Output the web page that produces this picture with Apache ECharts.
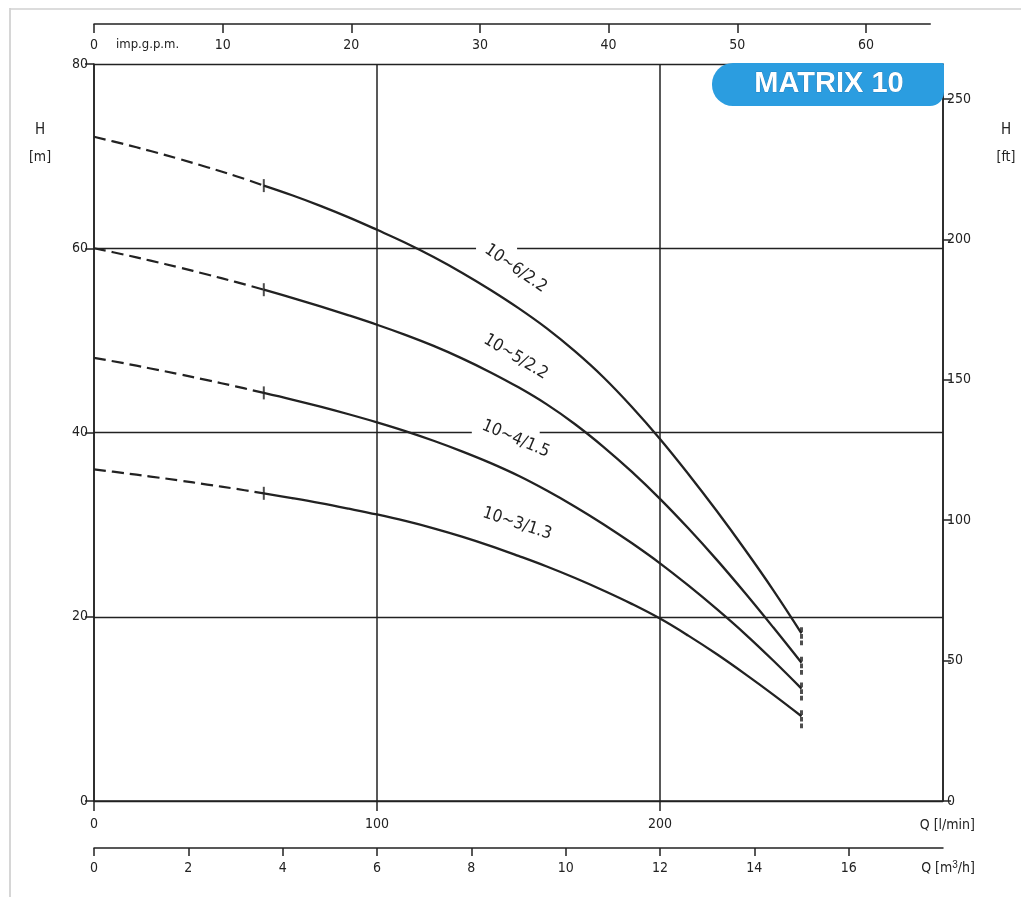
<!DOCTYPE html>
<html>
<head>
<meta charset="utf-8">
<script src="https://cdn.jsdelivr.net/npm/echarts@6/dist/echarts.min.js"></script>
<style>
  html, body { margin: 0; padding: 0; background: #fff; }
  #chart { width: 1021px; height: 897px; }
</style>
</head>
<body>
<div id="chart"></div>
<script>
// Pump curves, flow Q in l/min, head H in metres
const flowLpm   = [0, 10, 20, 30, 40, 50, 60, 70, 80, 90, 100, 110, 120, 130, 140, 150, 160, 170, 180, 190, 200, 210, 220, 230, 240, 250];
const head_10_6 = [72.1, 71.35, 70.55, 69.7, 68.8, 67.85, 66.8, 65.75, 64.6, 63.35, 62.0, 60.6, 59.05, 57.35, 55.5, 53.5, 51.3, 48.8, 46.0, 42.8, 39.3, 35.5, 31.5, 27.3, 22.9, 18.2];
const head_10_5 = [60.0, 59.35, 58.65, 57.92, 57.15, 56.35, 55.5, 54.62, 53.69, 52.72, 51.7, 50.6, 49.4, 48.05, 46.55, 44.9, 43.05, 40.9, 38.45, 35.75, 32.8, 29.6, 26.2, 22.6, 18.85, 15.0];
const head_10_4 = [48.1, 47.55, 46.95, 46.33, 45.68, 45.01, 44.3, 43.58, 42.81, 41.98, 41.1, 40.15, 39.1, 37.95, 36.7, 35.3, 33.7, 31.95, 30.05, 28.0, 25.8, 23.4, 20.85, 18.15, 15.25, 12.2];
const head_10_3 = [36.0, 35.62, 35.22, 34.8, 34.35, 33.89, 33.4, 32.88, 32.33, 31.73, 31.1, 30.4, 29.6, 28.7, 27.7, 26.6, 25.45, 24.2, 22.85, 21.4, 19.8, 17.95, 15.95, 13.8, 11.55, 9.2];
const pumpNames = ['10~6/2.2', '10~5/2.2', '10~4/1.5', '10~3/1.3'];
const pumpHeads = [head_10_6, head_10_5, head_10_4, head_10_3];
const dashedUntilQ = 60;           // curves are dashed below this flow
const title = 'MATRIX 10';

// axis ranges / unit conversions
const qMaxLpm = 300, hMaxM = 80;
const LPM_PER_IMP_GPM = 4.54609, LPM_PER_M3H = 1000 / 60, M_PER_FT = 0.3048;
const gpmMax = 65;

const FONT = "'DejaVu Sans Condensed', 'Liberation Sans Narrow', 'DejaVu Sans', sans-serif";
const INK = '#222';

const gridL = 94, gridR = 78, gridT = 64, gridB = 96;
const plotW = 1021 - gridL - gridR;
const gpmGridW = plotW * (gpmMax * LPM_PER_IMP_GPM) / qMaxLpm;

function pts(heads, from, to) {
  const out = [];
  flowLpm.forEach((q, i) => { if (q >= from && q <= to) out.push([q, heads[i]]); });
  return out;
}

const series = [];
pumpHeads.forEach((h, k) => {
  series.push({
    type: 'line', name: pumpNames[k] + ' dashed', xAxisIndex: 0, yAxisIndex: 0,
    data: pts(h, 0, dashedUntilQ), smooth: 0.4, symbol: 'none',
    lineStyle: { color: INK, width: 2.2, type: [12, 6] }, z: 3, silent: true
  });
  series.push({
    type: 'line', name: pumpNames[k], xAxisIndex: 0, yAxisIndex: 0,
    data: pts(h, dashedUntilQ, qMaxLpm), smooth: 0.4, symbol: 'none',
    lineStyle: { color: INK, width: 2.3 }, z: 3, silent: true
  });
});
// small cross ticks where each curve turns solid
series.push({
  type: 'scatter', xAxisIndex: 0, yAxisIndex: 0, silent: true, z: 4,
  data: pumpHeads.map(h => [dashedUntilQ, h[flowLpm.indexOf(dashedUntilQ)]]),
  symbol: 'rect', symbolSize: [2, 13], itemStyle: { color: INK }
});
// dashed end markers at the last point of each curve
series.push({
  type: 'scatter', xAxisIndex: 0, yAxisIndex: 0, silent: true, z: 4,
  data: pumpHeads.map(h => [flowLpm[flowLpm.length - 1], h[h.length - 1]]),
  symbol: 'path://M0,0H2V5H0Z M0,7H2V12H0Z M0,14H2V19H0Z',
  symbolKeepAspect: false, symbolSize: [3, 18], symbolOffset: [0, 3],
  itemStyle: { color: INK }
});

const axisLineStyle = { color: INK, width: 1.5 };
const labelStyle = { color: INK, fontFamily: FONT, fontSize: 14 };

const option = {
  animation: false,
  backgroundColor: '#fff',
  grid: [
    { left: gridL, right: gridR, top: gridT, bottom: gridB },
    { left: gridL, width: gpmGridW, top: 24, height: 20 }
  ],
  xAxis: [
    { // l/min
      type: 'value', gridIndex: 0, position: 'bottom', min: 0, max: qMaxLpm, interval: 100,
      axisLine: { show: true, onZero: false, lineStyle: axisLineStyle },
      axisTick: { show: true, length: 10, lineStyle: axisLineStyle },
      axisLabel: Object.assign({ margin: 16, showMaxLabel: false }, labelStyle),
      splitLine: { show: true, lineStyle: { color: INK, width: 1.5 } }
    },
    { // m3/h
      type: 'value', gridIndex: 0, position: 'bottom', offset: 47, min: 0, max: qMaxLpm / LPM_PER_M3H, interval: 2,
      axisLine: { show: true, onZero: false, lineStyle: axisLineStyle },
      axisTick: { show: true, length: 8, lineStyle: axisLineStyle },
      axisLabel: Object.assign({ margin: 13, showMaxLabel: false }, labelStyle),
      splitLine: { show: false }
    },
    { // imp. gallons per minute
      type: 'value', gridIndex: 1, position: 'top', min: 0, max: gpmMax, interval: 10,
      axisLine: { show: true, onZero: false, lineStyle: axisLineStyle },
      axisTick: { show: true, inside: true, length: 9, lineStyle: axisLineStyle },
      axisLabel: Object.assign({ inside: true, margin: 14, showMaxLabel: false }, labelStyle),
      splitLine: { show: false }
    }
  ],
  yAxis: [
    { // metres
      type: 'value', gridIndex: 0, position: 'left', min: 0, max: hMaxM, interval: 20,
      axisLine: { show: true, onZero: false, lineStyle: axisLineStyle },
      axisTick: { show: true, length: 9, lineStyle: axisLineStyle },
      axisLabel: Object.assign({ margin: 6 }, labelStyle),
      splitLine: { show: true, lineStyle: { color: INK, width: 1.3 } }
    },
    { // feet
      type: 'value', gridIndex: 0, position: 'right', min: 0, max: hMaxM / M_PER_FT, interval: 50,
      axisLine: { show: true, onZero: false, lineStyle: axisLineStyle },
      axisTick: { show: true, length: 8, lineStyle: axisLineStyle },
      axisLabel: Object.assign({ margin: 4, showMaxLabel: false }, labelStyle),
      splitLine: { show: false }
    },
    { type: 'value', gridIndex: 1, show: false }
  ],
  series: series
};

const chart = echarts.init(document.getElementById('chart'), null, { renderer: 'canvas' });
chart.setOption(option);

// curve labels, anchored in data coordinates
const labelAnchors = [[149, 57.8], [149, 48.2], [149, 39.3], [149.5, 30.1]];
const labelAngles = [35, 31, 23, 18];
// gaps in the grid lines behind labels: [Q from, Q to, H]
const gridGaps = [[135, 149.5, 60], [133.5, 157.5, 40]];

const px = (q, h) => chart.convertToPixel({ xAxisIndex: 0, yAxisIndex: 0 }, [q, h]);
const graphics = [];

gridGaps.forEach(([q0, q1, h]) => {
  const a = px(q0, h), b = px(q1, h);
  graphics.push({ type: 'rect', z: 1, shape: { x: a[0], y: a[1] - 2, width: b[0] - a[0], height: 4 },
    style: { fill: '#fff' } });
});

pumpNames.forEach((name, k) => {
  const p = px(labelAnchors[k][0], labelAnchors[k][1]);
  graphics.push({ type: 'text', z: 5, x: p[0], y: p[1], rotation: -labelAngles[k] * Math.PI / 180,
    style: { text: name, fill: INK, font: '17px ' + FONT, align: 'center', verticalAlign: 'middle' } });
});

// unit captions
const caption = (text, x, y, align, size) => ({ type: 'text', z: 5, x: x, y: y,
  style: { text: text, fill: INK, font: (size || 14) + 'px ' + FONT, align: align || 'center', verticalAlign: 'middle' } });
graphics.push(caption('H', 40, 130, 'center', 15));
graphics.push(caption('[m]', 40, 157, 'center', 14));
graphics.push(caption('H', 1006, 130, 'center', 15));
graphics.push(caption('[ft]', 1006, 157, 'center', 14));
graphics.push(caption('Q [l/min]', 975, 825, 'right', 14));
graphics.push({ type: 'text', z: 5, x: 975, y: 868,
  style: { text: 'Q [m{s|3}/h]', rich: { s: { fontSize: 10, verticalAlign: 'top', padding: [0, 0, 6, 0] } },
    fill: INK, font: '14px ' + FONT, align: 'right', verticalAlign: 'middle' } });
graphics.push(caption('imp.g.p.m.', 116, 45, 'left', 13));

// model badge in the upper right corner of the plot
graphics.push({ type: 'rect', z: 6, shape: { x: 712, y: 63, width: 232, height: 43, r: [21, 2, 14, 21] },
  style: { fill: '#2b9de0' } });
graphics.push({ type: 'text', z: 7, x: 829, y: 84,
  style: { text: title, fill: '#fff', font: 'bold 29px "Liberation Sans", Arial, sans-serif',
    align: 'center', verticalAlign: 'middle', stroke: '#1d6ea8', lineWidth: 0.6 } });

// faint page edge
graphics.push({ type: 'line', z: 0, shape: { x1: 10, y1: 8, x2: 10, y2: 897 }, style: { stroke: '#c8c8c8', lineWidth: 1.5 } });
graphics.push({ type: 'line', z: 0, shape: { x1: 10, y1: 9, x2: 1021, y2: 9 }, style: { stroke: '#d0d0d0', lineWidth: 1.5 } });

chart.setOption({ graphic: graphics });
</script>
</body>
</html>
